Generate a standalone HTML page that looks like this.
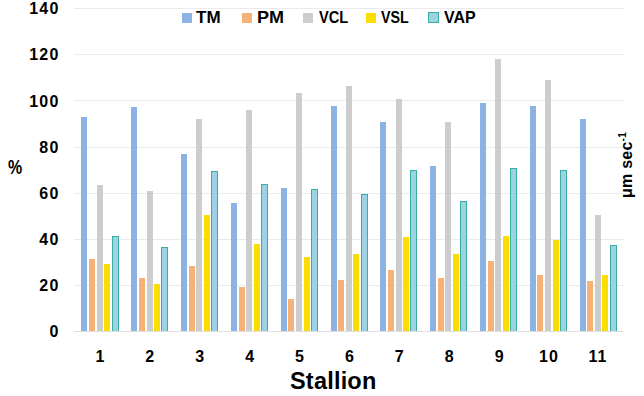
<!DOCTYPE html>
<html><head><meta charset="utf-8"><style>
html,body{margin:0;padding:0;background:#fff;}
body{width:644px;height:396px;position:relative;overflow:hidden;font-family:"Liberation Sans",sans-serif;font-weight:bold;color:#000;}
.g{position:absolute;left:74px;width:550px;height:1px;background:#eaeaea;}
.ax{background:#e0e0e0;}
.b{position:absolute;width:6px;}
.vap{width:5px;background:#9dd2e4;border:1px solid #38ae9c;border-bottom:none;}
.yl{position:absolute;left:0;width:59.5px;text-align:right;font-size:16px;line-height:20px;letter-spacing:1.2px;}
.xl{position:absolute;top:347px;width:40px;text-align:center;font-size:16px;line-height:20px;letter-spacing:1px;}
.sw{position:absolute;top:13px;width:10px;height:10px;}
.vapsw{top:12px;width:9px;height:9px;background:#9dd2e4;border:1px solid #38ae9c;}
.lt{position:absolute;top:8px;font-size:17px;line-height:20px;transform-origin:0 0;}
.pct{position:absolute;left:8px;top:157px;font-size:19px;line-height:20px;transform-origin:0 0;transform:scale(0.84,1.06);}
.st{position:absolute;left:290px;top:367.5px;font-size:23.5px;line-height:26px;letter-spacing:0.2px;}
.rl{position:absolute;left:627px;top:165px;transform-origin:0 0;transform:rotate(-90deg) translate(-50%,-50%);white-space:nowrap;font-size:16px;line-height:20px;letter-spacing:0.25px;}
.rl sup{font-size:10px;vertical-align:6px;line-height:0;}
</style></head><body>
<div class="g" style="top:8px"></div>
<div class="g" style="top:54px"></div>
<div class="g" style="top:100px"></div>
<div class="g" style="top:147px"></div>
<div class="g" style="top:193px"></div>
<div class="g" style="top:239px"></div>
<div class="g" style="top:285px"></div>
<div class="g ax" style="top:331px"></div>
<div class="b" style="left:81px;top:117px;height:214px;background:#8db3e2"></div>
<div class="b" style="left:89px;top:259px;height:72px;background:#f6b176"></div>
<div class="b" style="left:97px;top:185px;height:146px;background:#cdcdcd"></div>
<div class="b" style="left:104px;top:264px;height:67px;background:#fcdd00"></div>
<div class="b vap" style="left:112px;top:236px;height:94px"></div>
<div class="b" style="left:131px;top:107px;height:224px;background:#8db3e2"></div>
<div class="b" style="left:139px;top:278px;height:53px;background:#f6b176"></div>
<div class="b" style="left:147px;top:191px;height:140px;background:#cdcdcd"></div>
<div class="b" style="left:154px;top:284px;height:47px;background:#fcdd00"></div>
<div class="b vap" style="left:161px;top:247px;height:83px"></div>
<div class="b" style="left:181px;top:154px;height:177px;background:#8db3e2"></div>
<div class="b" style="left:189px;top:266px;height:65px;background:#f6b176"></div>
<div class="b" style="left:196px;top:119px;height:212px;background:#cdcdcd"></div>
<div class="b" style="left:204px;top:215px;height:116px;background:#fcdd00"></div>
<div class="b vap" style="left:211px;top:171px;height:159px"></div>
<div class="b" style="left:231px;top:203px;height:128px;background:#8db3e2"></div>
<div class="b" style="left:239px;top:287px;height:44px;background:#f6b176"></div>
<div class="b" style="left:246px;top:110px;height:221px;background:#cdcdcd"></div>
<div class="b" style="left:254px;top:244px;height:87px;background:#fcdd00"></div>
<div class="b vap" style="left:261px;top:184px;height:146px"></div>
<div class="b" style="left:281px;top:188px;height:143px;background:#8db3e2"></div>
<div class="b" style="left:288px;top:299px;height:32px;background:#f6b176"></div>
<div class="b" style="left:296px;top:93px;height:238px;background:#cdcdcd"></div>
<div class="b" style="left:304px;top:257px;height:74px;background:#fcdd00"></div>
<div class="b vap" style="left:311px;top:189px;height:141px"></div>
<div class="b" style="left:331px;top:106px;height:225px;background:#8db3e2"></div>
<div class="b" style="left:338px;top:280px;height:51px;background:#f6b176"></div>
<div class="b" style="left:346px;top:86px;height:245px;background:#cdcdcd"></div>
<div class="b" style="left:353px;top:254px;height:77px;background:#fcdd00"></div>
<div class="b vap" style="left:361px;top:194px;height:136px"></div>
<div class="b" style="left:380px;top:122px;height:209px;background:#8db3e2"></div>
<div class="b" style="left:388px;top:270px;height:61px;background:#f6b176"></div>
<div class="b" style="left:396px;top:99px;height:232px;background:#cdcdcd"></div>
<div class="b" style="left:403px;top:237px;height:94px;background:#fcdd00"></div>
<div class="b vap" style="left:410px;top:170px;height:160px"></div>
<div class="b" style="left:430px;top:166px;height:165px;background:#8db3e2"></div>
<div class="b" style="left:438px;top:278px;height:53px;background:#f6b176"></div>
<div class="b" style="left:445px;top:122px;height:209px;background:#cdcdcd"></div>
<div class="b" style="left:453px;top:254px;height:77px;background:#fcdd00"></div>
<div class="b vap" style="left:460px;top:201px;height:129px"></div>
<div class="b" style="left:480px;top:103px;height:228px;background:#8db3e2"></div>
<div class="b" style="left:488px;top:261px;height:70px;background:#f6b176"></div>
<div class="b" style="left:495px;top:59px;height:272px;background:#cdcdcd"></div>
<div class="b" style="left:503px;top:236px;height:95px;background:#fcdd00"></div>
<div class="b vap" style="left:510px;top:168px;height:162px"></div>
<div class="b" style="left:530px;top:106px;height:225px;background:#8db3e2"></div>
<div class="b" style="left:537px;top:275px;height:56px;background:#f6b176"></div>
<div class="b" style="left:545px;top:80px;height:251px;background:#cdcdcd"></div>
<div class="b" style="left:553px;top:240px;height:91px;background:#fcdd00"></div>
<div class="b vap" style="left:560px;top:170px;height:160px"></div>
<div class="b" style="left:580px;top:119px;height:212px;background:#8db3e2"></div>
<div class="b" style="left:587px;top:281px;height:50px;background:#f6b176"></div>
<div class="b" style="left:595px;top:215px;height:116px;background:#cdcdcd"></div>
<div class="b" style="left:602px;top:275px;height:56px;background:#fcdd00"></div>
<div class="b vap" style="left:610px;top:245px;height:85px"></div>
<div class="yl" style="top:-1px">140</div>
<div class="yl" style="top:45px">120</div>
<div class="yl" style="top:92px">100</div>
<div class="yl" style="top:138px">80</div>
<div class="yl" style="top:184px">60</div>
<div class="yl" style="top:230px">40</div>
<div class="yl" style="top:276px">20</div>
<div class="yl" style="top:322px">0</div>
<div class="xl" style="left:80.4px">1</div>
<div class="xl" style="left:130.3px">2</div>
<div class="xl" style="left:180.2px">3</div>
<div class="xl" style="left:230.1px">4</div>
<div class="xl" style="left:280.0px">5</div>
<div class="xl" style="left:329.9px">6</div>
<div class="xl" style="left:379.8px">7</div>
<div class="xl" style="left:429.7px">8</div>
<div class="xl" style="left:479.6px">9</div>
<div class="xl" style="left:529.0px">10</div>
<div class="xl" style="left:577.9px">11</div>
<div class="sw" style="left:182px;background:#8db3e2"></div>
<div class="lt" style="left:196px;transform:scaleX(1.0)">TM</div>
<div class="sw" style="left:242px;background:#f6b176"></div>
<div class="lt" style="left:257.3px;transform:scaleX(1.06)">PM</div>
<div class="sw" style="left:303px;background:#cdcdcd"></div>
<div class="lt" style="left:319px;transform:scaleX(0.86)">VCL</div>
<div class="sw" style="left:366px;background:#fcdd00"></div>
<div class="lt" style="left:381px;transform:scaleX(0.84)">VSL</div>
<div class="sw vapsw" style="left:428px"></div>
<div class="lt" style="left:444px;transform:scaleX(0.94)">VAP</div>
<div class="pct">%</div>
<div class="st">Stallion</div>
<div class="rl">&#956;m sec<sup>-1</sup></div>
</body></html>
